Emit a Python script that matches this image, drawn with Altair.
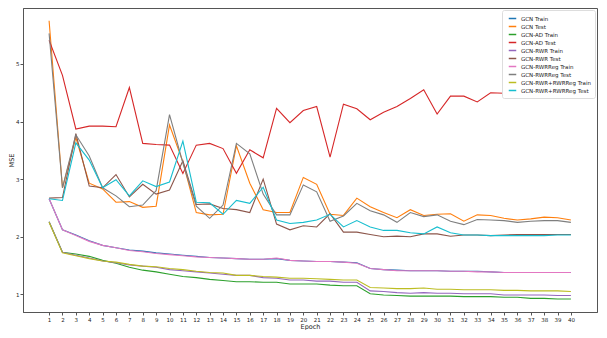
import altair as alt
import pandas as pd

epochs = list(range(1, 41))

series_names = [
    "GCN Train", "GCN Test", "GCN-AD Train", "GCN-AD Test",
    "GCN-RWR Train", "GCN-RWR Test", "GCN-RWRReg Train", "GCN-RWRReg Test",
    "GCN-RWR+RWRReg Train", "GCN-RWR+RWRReg Test",
]
series_colors = ["#1f77b4", "#ff7f0e", "#2ca02c", "#d62728", "#9467bd",
                 "#8c564b", "#e377c2", "#7f7f7f", "#bcbd22", "#17becf"]

gcn_train = [2.66, 2.12, 2.03, 1.93, 1.85, 1.81, 1.77, 1.75, 1.72, 1.70,
             1.68, 1.66, 1.64, 1.63, 1.62, 1.61, 1.61, 1.62, 1.59, 1.58,
             1.57, 1.57, 1.56, 1.55, 1.45, 1.43, 1.42, 1.41, 1.41, 1.41,
             1.40, 1.40, 1.40, 1.39, 1.38, 1.38, 1.38, 1.38, 1.38, 1.38]
gcn_test = [5.75, 2.85, 3.72, 2.93, 2.83, 2.60, 2.61, 2.51, 2.53, 3.94,
            3.30, 2.42, 2.38, 2.39, 3.58, 2.93, 2.47, 2.42, 2.42, 3.03,
            2.91, 2.39, 2.37, 2.67, 2.52, 2.42, 2.33, 2.47, 2.37, 2.39,
            2.40, 2.27, 2.38, 2.37, 2.32, 2.29, 2.31, 2.34, 2.33, 2.29]
gcn_ad_train = [2.26, 1.73, 1.70, 1.66, 1.59, 1.54, 1.47, 1.42, 1.39, 1.35,
                1.31, 1.29, 1.26, 1.24, 1.22, 1.22, 1.21, 1.21, 1.18, 1.18,
                1.18, 1.16, 1.15, 1.15, 1.01, 0.99, 0.98, 0.97, 0.97, 0.97,
                0.97, 0.96, 0.96, 0.96, 0.95, 0.95, 0.93, 0.93, 0.92, 0.92]
gcn_ad_test = [5.41, 4.80, 3.87, 3.92, 3.92, 3.91, 4.59, 3.62, 3.60, 3.59,
               3.10, 3.59, 3.62, 3.53, 3.10, 3.51, 3.37, 4.23, 3.98, 4.19,
               4.26, 3.38, 4.30, 4.22, 4.03, 4.16, 4.26, 4.40, 4.55, 4.13,
               4.44, 4.44, 4.34, 4.50, 4.49, 4.57, 4.54, 4.56, 4.54, 4.54]
gcn_rwr_train = [2.26, 1.73, 1.68, 1.63, 1.58, 1.55, 1.51, 1.49, 1.47, 1.43,
                 1.41, 1.39, 1.37, 1.35, 1.33, 1.33, 1.29, 1.28, 1.25, 1.25,
                 1.23, 1.23, 1.21, 1.21, 1.06, 1.05, 1.03, 1.02, 1.03, 1.02,
                 1.02, 1.01, 1.01, 1.01, 0.99, 0.99, 0.99, 0.99, 0.98, 0.98]
gcn_rwr_test = [2.67, 2.68, 3.79, 2.88, 2.85, 3.08, 2.69, 2.91, 2.74, 2.81,
                3.32, 2.56, 2.57, 2.49, 2.47, 2.42, 3.00, 2.22, 2.12, 2.19,
                2.17, 2.40, 2.08, 2.08, 2.04, 2.00, 2.01, 2.00, 2.05, 2.05,
                2.01, 2.03, 2.03, 2.02, 2.03, 2.04, 2.04, 2.04, 2.04, 2.04]
gcn_rwrreg_train = [2.66, 2.12, 2.02, 1.92, 1.85, 1.81, 1.76, 1.74, 1.71, 1.69,
                    1.67, 1.65, 1.64, 1.63, 1.62, 1.61, 1.61, 1.63, 1.59, 1.58,
                    1.57, 1.57, 1.56, 1.54, 1.45, 1.43, 1.41, 1.41, 1.41, 1.41,
                    1.40, 1.40, 1.39, 1.39, 1.38, 1.38, 1.38, 1.38, 1.38, 1.38]
gcn_rwrreg_test = [5.53, 2.85, 3.77, 3.40, 2.85, 2.71, 2.52, 2.55, 2.80, 4.12,
                   3.28, 2.53, 2.32, 2.55, 3.62, 3.44, 2.74, 2.38, 2.38, 2.90,
                   2.78, 2.27, 2.36, 2.58, 2.45, 2.38, 2.25, 2.42, 2.35, 2.38,
                   2.27, 2.21, 2.30, 2.29, 2.28, 2.25, 2.27, 2.28, 2.28, 2.25]
gcn_both_train = [2.25, 1.72, 1.67, 1.62, 1.58, 1.56, 1.52, 1.49, 1.48, 1.45,
                  1.43, 1.40, 1.38, 1.37, 1.33, 1.33, 1.31, 1.30, 1.28, 1.28,
                  1.27, 1.26, 1.25, 1.25, 1.12, 1.11, 1.10, 1.10, 1.11, 1.09,
                  1.09, 1.08, 1.08, 1.08, 1.07, 1.07, 1.06, 1.06, 1.06, 1.05]
gcn_both_test = [2.66, 2.63, 3.63, 3.33, 2.85, 2.99, 2.71, 2.97, 2.87, 2.95,
                 3.66, 2.60, 2.59, 2.39, 2.63, 2.58, 2.86, 2.29, 2.23, 2.25,
                 2.29, 2.39, 2.17, 2.28, 2.17, 2.11, 2.11, 2.07, 2.05, 2.17,
                 2.07, 2.03, 2.03, 2.02, 2.02, 2.02, 2.02, 2.02, 2.03, 2.03]

all_series = [gcn_train, gcn_test, gcn_ad_train, gcn_ad_test, gcn_rwr_train,
              gcn_rwr_test, gcn_rwrreg_train, gcn_rwrreg_test,
              gcn_both_train, gcn_both_test]

rows = []
for i, (name, vals) in enumerate(zip(series_names, all_series)):
    for e, v in zip(epochs, vals):
        rows.append({"Epoch": e, "MSE": v, "series": name, "order": i})
df = pd.DataFrame(rows)

font = "DejaVu Sans"

chart = alt.Chart(df).mark_line(strokeWidth=1.1).encode(
    x=alt.X("Epoch:Q", title="Epoch",
            scale=alt.Scale(domain=[-0.95, 41.95], nice=False, zero=False),
            axis=alt.Axis(values=epochs, labelFontSize=5.5, titleFontSize=6.5,
                          grid=False, tickSize=3, labelPadding=2, titlePadding=1,
                          labelFlush=False, labelOverlap=False)),
    y=alt.Y("MSE:Q", title="MSE",
            scale=alt.Scale(domain=[0.694, 5.97], nice=False, zero=False),
            axis=alt.Axis(values=[1, 2, 3, 4, 5], labelFontSize=5.5, titleFontSize=6.5,
                          grid=False, tickSize=3, labelPadding=1, titlePadding=1)),
    color=alt.Color("series:N", title=None,
                    scale=alt.Scale(domain=series_names, range=series_colors),
                    legend=alt.Legend(orient="top-right", offset=2,
                                      fillColor="white", strokeColor="#dddddd",
                                      padding=4, cornerRadius=2,
                                      labelFontSize=5.5, labelFont=font,
                                      labelColor="#222222",
                                      symbolType="stroke", symbolStrokeWidth=1.5,
                                      symbolSize=56, rowPadding=0, symbolOffset=2,
                                      labelOffset=4, labelLimit=200)),
    detail="order:O",
).properties(
    width=591, height=322,
    autosize=alt.AutoSizeParams(type="fit", contains="padding"),
    padding={"left": 0, "top": 0, "right": 2, "bottom": 0},
).configure_view(
    stroke="#555555", strokeWidth=1
).configure_axis(
    domainColor="#555555", tickColor="#555555", labelColor="#222222",
    titleColor="#222222", labelFont=font, titleFont=font, titleFontWeight="normal"
)

chart.save("out.html", embed_options={"renderer": "svg", "actions": False})
